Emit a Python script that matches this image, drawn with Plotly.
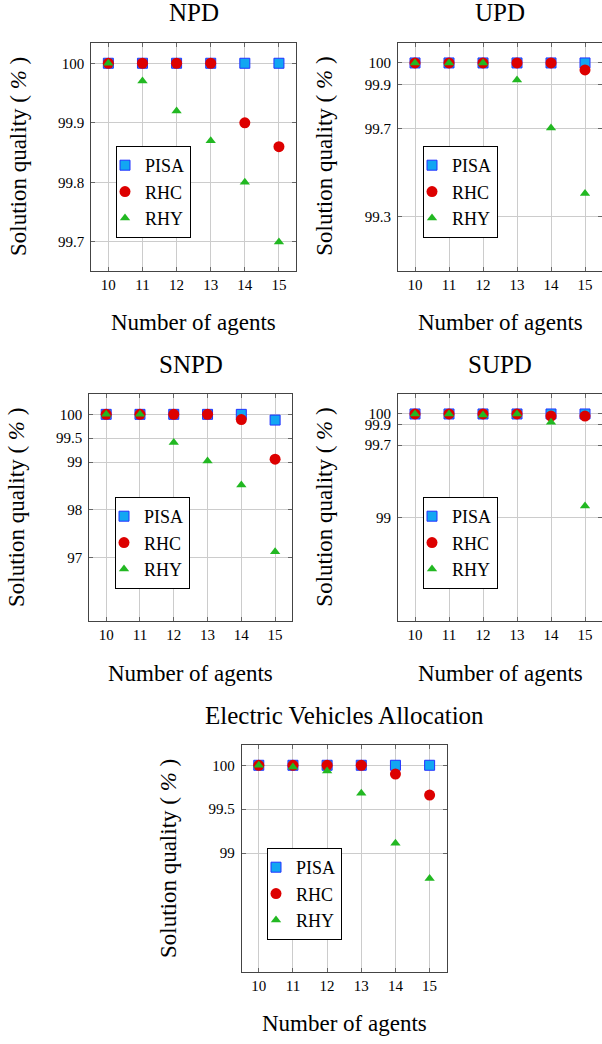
import plotly.graph_objects as go

W, H = 602, 1044

agents = [10, 11, 12, 13, 14, 15]
series_names = ["PISA", "RHC", "RHY"]

npd_pisa = [100, 100, 100, 100, 100, 100]
npd_rhc = [100, 100, 100, 100, 99.90, 99.86]
npd_rhy = [100, 99.97, 99.92, 99.87, 99.80, 99.70]

upd_pisa = [100, 100, 100, 100, 100, 100]
upd_rhc = [100, 100, 100, 100, 100, 99.968]
upd_rhy = [100, 100, 100, 99.922, 99.703, 99.404]

snpd_pisa = [100, 100, 100, 100, 100, 99.88]
snpd_rhc = [100, 100, 100, 100, 99.89, 99.06]
snpd_rhy = [100, 100, 99.41, 99.02, 98.52, 97.12]

supd_pisa = [100, 100, 100, 100, 100, 100]
supd_rhc = [100, 100, 100, 100, 99.98, 99.98]
supd_rhy = [100, 100, 99.99, 100, 99.92, 99.11]

ev_pisa = [100, 100, 100, 100, 100, 100]
ev_rhc = [100, 100, 100, 100, 99.90, 99.66]
ev_rhy = [100, 99.98, 99.935, 99.68, 99.11, 98.71]

npd_ticks = [99.7, 99.8, 99.9, 100]
npd_ticktext = ["99.7", "99.8", "99.9", "100"]
upd_ticks = [99.3, 99.7, 99.9, 100]
upd_ticktext = ["99.3", "99.7", "99.9", "100"]
snpd_ticks = [97, 98, 99, 99.5, 100]
snpd_ticktext = ["97", "98", "99", "99.5", "100"]
supd_ticks = [99, 99.7, 99.9, 100]
supd_ticktext = ["99", "99.7", "99.9", "100"]
ev_ticks = [99, 99.5, 100]
ev_ticktext = ["99", "99.5", "100"]

# panel boxes in pixels: left, right, top, bottom ; y range ; legend top-left
panels = [
    dict(title="NPD", box=(91.3, 296, 43, 270.5), yr=[99.652, 100.034],
         data=(npd_pisa, npd_rhc, npd_rhy), ticks=(npd_ticks, npd_ticktext), leg=(116, 146)),
    dict(title="UPD", box=(398, 602, 43, 270.5), yr=[99.053, 100.091],
         data=(upd_pisa, upd_rhc, upd_rhy), ticks=(upd_ticks, upd_ticktext), leg=(423, 146)),
    dict(title="SNPD", box=(89.3, 292, 394.3, 621), yr=[95.67, 100.42],
         data=(snpd_pisa, snpd_rhc, snpd_rhy), ticks=(snpd_ticks, snpd_ticktext), leg=(115, 497)),
    dict(title="SUPD", box=(398, 602, 394.3, 621), yr=[98.0, 100.19],
         data=(supd_pisa, supd_rhc, supd_rhy), ticks=(supd_ticks, supd_ticktext), leg=(423, 497)),
    dict(title="Electric Vehicles Allocation", box=(241.7, 446.7, 745, 971.7), yr=[97.647, 100.231],
         data=(ev_pisa, ev_rhc, ev_rhy), ticks=(ev_ticks, ev_ticktext), leg=(267, 848)),
]

FONT = "Liberation Serif, Times New Roman, serif"
markers = [
    dict(symbol="square", size=10, color="#12a6f2", line=dict(color="#2233ff", width=1)),
    dict(symbol="circle", size=11, color="#dd0000", line=dict(width=0)),
    dict(symbol="triangle-up", size=9, color="#22b822", line=dict(width=0)),
]

px = lambda x: x / W
py = lambda y: 1 - y / H

fig = go.Figure()
layout = dict(width=W, height=H, margin=dict(l=0, r=0, t=0, b=0),
              paper_bgcolor="white", plot_bgcolor="white",
              font=dict(family=FONT, color="black", size=15), annotations=[])

for i, p in enumerate(panels):
    n = "" if i == 0 else str(i + 1)
    leg = "legend" + n
    l, r, t, b = p["box"]
    for name, vals, mk in zip(series_names, p["data"], markers):
        fig.add_trace(go.Scatter(x=agents, y=vals, name=name, mode="markers",
                                 marker=mk, xaxis="x" + n, yaxis="y" + n,
                                 legend=leg, showlegend=True))
    axis_common = dict(showgrid=True, gridcolor="#cccccc", gridwidth=1,
                       showline=True, linecolor="#444444", linewidth=1, mirror="allticks",
                       ticks="inside", ticklen=4, tickcolor="#666666",
                       zeroline=False, tickfont=dict(family=FONT, size=15, color="black"))
    layout["xaxis" + n] = dict(axis_common, domain=[px(l), px(r)], range=[9.5, 15.5],
                               tickmode="array", tickvals=agents, anchor="y" + n,
                               ticklabelstandoff=0)
    layout["yaxis" + n] = dict(axis_common, domain=[py(b), py(t)], range=p["yr"],
                               tickmode="array", tickvals=p["ticks"][0],
                               ticktext=p["ticks"][1], anchor="x" + n,
                               ticklabelstandoff=3)
    layout[leg] = dict(x=px(p["leg"][0]), y=py(p["leg"][1]), xanchor="left", yanchor="top",
                       bgcolor="white", bordercolor="black", borderwidth=1,
                       font=dict(family=FONT, size=18, color="black"),
                       itemwidth=30, tracegroupgap=0, indentation=-12)
    cx = (l + r) / 2
    layout["annotations"] += [
        dict(text=p["title"], x=px(cx), y=py(t - 30), xref="paper", yref="paper",
             showarrow=False, xanchor="center", yanchor="middle",
             font=dict(family=FONT, size=25)),
        dict(text="Number of agents", x=px(cx), y=py(b + 52), xref="paper", yref="paper",
             showarrow=False, xanchor="center", yanchor="middle",
             font=dict(family=FONT, size=23)),
        dict(text="Solution quality ( <i>%</i> )", x=px(l - 73), y=py((t + b) / 2),
             xref="paper", yref="paper", showarrow=False, textangle=-90,
             xanchor="center", yanchor="middle", font=dict(family=FONT, size=23)),
    ]

fig.update_layout(**layout)
# drop the default page margin so the figure sits at the window's corner
fig.write_html("out.html", config={"displayModeBar": False},
               post_script="document.body.style.margin = '0px';")
